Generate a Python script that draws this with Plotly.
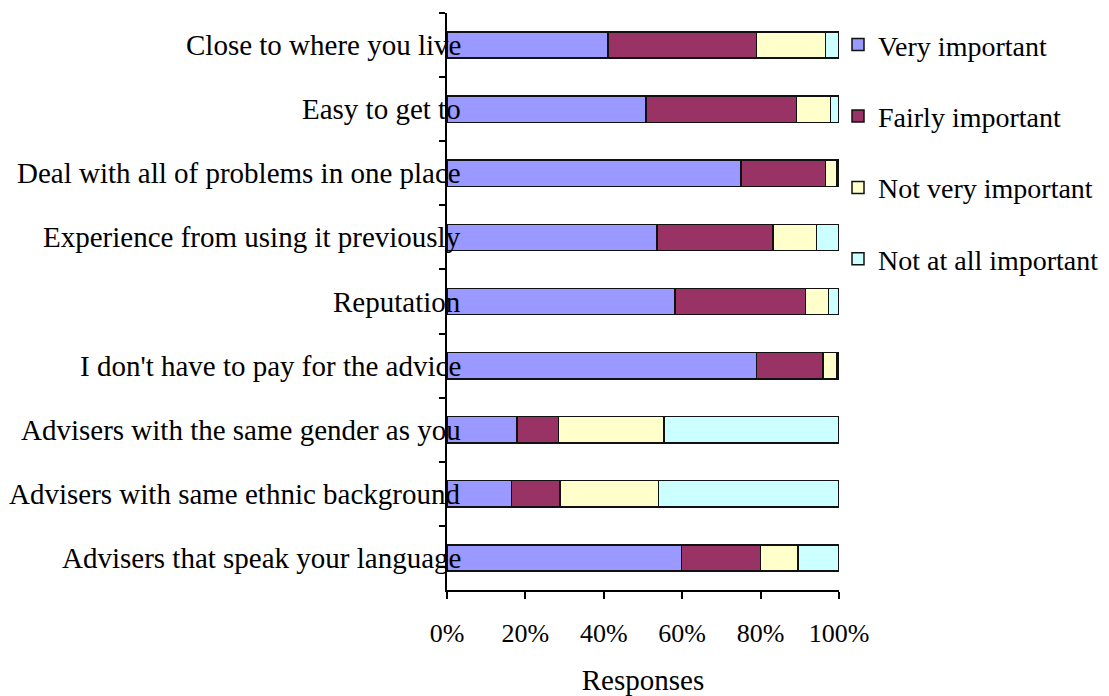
import plotly.graph_objects as go

categories = [
    "Close to where you live",
    "Easy to get to",
    "Deal with all of problems in one place",
    "Experience from using it previously",
    "Reputation",
    "I don't have to pay for the advice",
    "Advisers with the same gender as you",
    "Advisers with same ethnic background",
    "Advisers that speak your language",
]
very_important = [41.1, 50.8, 75.0, 53.6, 58.1, 79.0, 17.9, 16.5, 59.8]
fairly_important = [37.9, 38.3, 21.5, 29.5, 33.3, 16.9, 10.5, 12.3, 20.2]
not_very_important = [17.5, 8.7, 3.0, 11.1, 5.9, 3.6, 27.0, 25.2, 9.6]
not_at_all_important = [3.5, 2.2, 0.5, 5.8, 2.7, 0.5, 44.6, 46.0, 10.4]

series_names = ["Very important", "Fairly important", "Not very important", "Not at all important"]
series_values = [very_important, fairly_important, not_very_important, not_at_all_important]
colors = ["#9999FF", "#993366", "#FFFFCC", "#CCFFFF"]
x_ticks = [0, 0.2, 0.4, 0.6, 0.8, 1.0]

FONT = "Liberation Serif"
FS = 29
LEG_FS = 28
TICK_FS = 26

fig = go.Figure()
for name, vals, col in zip(series_names, series_values, colors):
    fig.add_trace(go.Bar(
        y=categories,
        x=[v / 100 for v in vals],
        name=name,
        orientation="h",
        marker=dict(color=col, line=dict(color="#111111", width=1.5)),
        legendgroup=name,
    ))

for c in categories:
    fig.add_annotation(
        x=0.041, xref="paper", y=c, yref="y",
        text=c, showarrow=False, xanchor="right", yanchor="middle",
        font=dict(family=FONT, size=FS, color="black"),
    )

# page body has an 8px margin, so the figure is 8px smaller than the window
fig.update_layout(
    width=1101, height=688,
    barmode="stack",
    bargap=0.59,
    plot_bgcolor="white", paper_bgcolor="white",
    margin=dict(l=439, r=270, t=5, b=106, autoexpand=False),
    font=dict(family=FONT, size=FS, color="black"),
    showlegend=True,
    legend=dict(
        xref="paper", x=(838 - 447) / 392, xanchor="left",
        y=0.988, yanchor="top",
        traceorder="grouped", tracegroupgap=32,
        font=dict(family=FONT, size=LEG_FS, color="black"),
        bgcolor="rgba(0,0,0,0)",
    ),
    xaxis=dict(
        range=[0, 1], tickvals=x_ticks, tickformat=".0%",
        tickfont=dict(family=FONT, size=TICK_FS, color="black"),
        ticklabelstandoff=12,
        showgrid=False, zeroline=False,
        showline=True, linecolor="black", linewidth=1.5,
        ticks="outside", ticklen=7, tickwidth=1.5, tickcolor="black",
        title=dict(text="Responses", font=dict(family=FONT, size=FS), standoff=32),
        fixedrange=True,
    ),
    yaxis=dict(
        autorange="reversed",
        showticklabels=False,
        showgrid=False, zeroline=False,
        showline=True, linecolor="black", linewidth=1.5,
        ticks="outside", tickson="boundaries", ticklen=6, tickwidth=1.5, tickcolor="black",
        fixedrange=True,
    ),
)

fig.write_html("out.html")
